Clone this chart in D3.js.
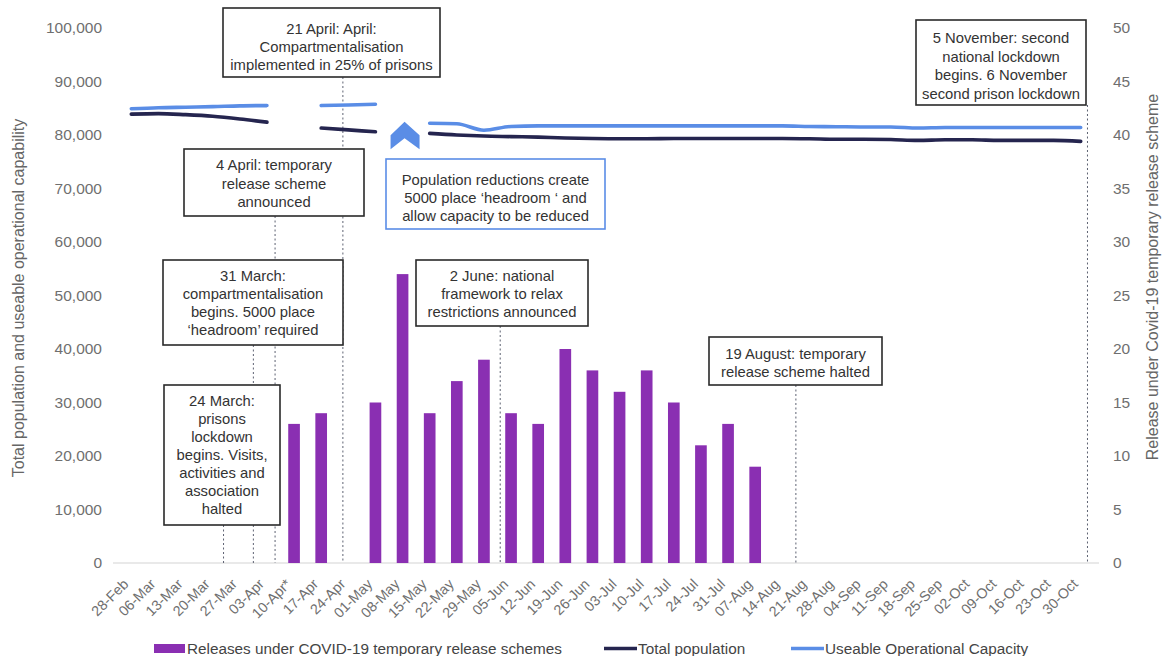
<!DOCTYPE html>
<html>
<head>
<meta charset="utf-8">
<script src="https://cdn.jsdelivr.net/npm/d3@7"></script>
<style>
  body { margin: 0; background: #fff; }
  svg { display: block; font-family: "Liberation Sans", Arial, Helvetica, sans-serif; }
</style>
</head>
<body>
<svg id="chart" width="1162" height="656"></svg>
<script>
// Weekly categories (week commencing)
const weeks = ["28-Feb","06-Mar","13-Mar","20-Mar","27-Mar","03-Apr","10-Apr*","17-Apr","24-Apr",
  "01-May","08-May","15-May","22-May","29-May","05-Jun","12-Jun","19-Jun","26-Jun","03-Jul",
  "10-Jul","17-Jul","24-Jul","31-Jul","07-Aug","14-Aug","21-Aug","28-Aug","04-Sep","11-Sep",
  "18-Sep","25-Sep","02-Oct","09-Oct","16-Oct","23-Oct","30-Oct"];

// Releases under the COVID-19 temporary release schemes (right axis)
const releases = [null,null,null,null,null,null,13,14,null,15,27,14,17,19,14,13,20,18,16,
  18,15,11,13,9,null,null,null,null,null,null,null,null,null,null,null,null];

// Total prison population (left axis); gaps where no figure was published
const totalPopulation = [83900,84000,83800,83500,83000,82400,null,81300,80950,80600,null,
  80300,80000,79800,79700,79600,79450,79350,79300,79300,79350,79350,79350,79350,79350,79300,
  79200,79200,79150,79000,79100,79100,79000,79000,79000,78800];

// Useable operational capacity (left axis)
const operationalCapacity = [84900,85100,85200,85300,85450,85500,null,85500,85600,85750,null,
  82200,82100,80900,81600,81700,81700,81700,81700,81700,81700,81700,81700,81700,81700,81600,
  81550,81500,81500,81300,81400,81400,81400,81400,81400,81400];

const leftTicks = d3.range(0, 100001, 10000);
const rightTicks = d3.range(0, 51, 5);

// Timeline events: position in weeks from 28-Feb and the note text
const events = [
  { week: 3.4,  lines: ["24 March:", "prisons", "lockdown", "begins. Visits,", "activities and", "association", "halted"] },
  { week: 4.5,  lines: ["31 March:", "compartmentalisation", "begins. 5000 place", "\u2018headroom\u2019 required"] },
  { week: 5.3,  lines: ["4 April: temporary", "release scheme", "announced"] },
  { week: 7.8,  lines: ["21 April: April:", "Compartmentalisation", "implemented in 25% of prisons"] },
  { week: 13.6, lines: ["2 June: national", "framework to relax", "restrictions announced"] },
  { week: 24.5, lines: ["19 August: temporary", "release scheme halted"] },
  { week: 35.25, lines: ["5 November: second", "national lockdown", "begins. 6 November", "second prison lockdown"] }
];
const headroomNote = ["Population reductions create", "5000 place \u2018headroom \u2018 and", "allow capacity to be reduced"];

// Note box placement: [left, top, right, bottom, first line centre, line spacing]
const noteBoxes = [
  [164, 385, 280, 525, 400.5, 18],
  [163, 260, 343, 345, 276, 18],
  [184, 149, 364, 216, 165, 18.3],
  [223, 8, 440, 77, 28.5, 18],
  [416, 260, 588, 326, 276, 18],
  [709, 337, 882, 385, 353.3, 18.4],
  [916, 20, 1086, 105, 37.7, 18.5]
];
const headroomBox = [386, 159, 605, 229, 179.3, 18.3];

const colors = {
  bars: "#8a2fb2",
  population: "#25254f",
  capacity: "#5a8de6",
  note: "#333",
  tick: "#6f6f6f",
  axisLine: "#d3d3d3",
  eventLine: "#5d6272"
};

const svg = d3.select("#chart");
const plotTop = 28, plotBottom = 563, plotLeft = 113, plotRight = 1099;

const x = d3.scaleBand().domain(weeks).range([plotLeft, plotRight]).paddingInner(0.57).paddingOuter(0.46);
const bw = x.bandwidth();
const cx = i => x(weeks[i]) + bw / 2;
const weekX = w => cx(0) + w * x.step();

const yL = d3.scaleLinear().domain([0, 100000]).range([plotBottom, plotTop]);
const yR = d3.scaleLinear().domain([0, 50]).range([plotBottom, plotTop]);

// Baseline
svg.append("line")
  .attr("x1", plotLeft).attr("x2", plotRight)
  .attr("y1", plotBottom).attr("y2", plotBottom)
  .attr("stroke", colors.axisLine).attr("stroke-width", 1.2);

// Left axis
const leftAxis = svg.append("g")
  .attr("transform", `translate(${plotLeft - 11},0)`)
  .call(d3.axisLeft(yL).tickValues(leftTicks).tickSize(0).tickPadding(0).tickFormat(d3.format(",")));
leftAxis.select(".domain").remove();
leftAxis.selectAll("text").attr("font-size", 15.5).attr("fill", colors.tick)
  .attr("font-family", "\"Liberation Sans\", Arial, sans-serif");

// Right axis
const rightAxis = svg.append("g")
  .attr("transform", `translate(${plotRight + 14},0)`)
  .call(d3.axisRight(yR).tickValues(rightTicks).tickSize(0).tickPadding(0));
rightAxis.select(".domain").remove();
rightAxis.selectAll("text").attr("font-size", 15.5).attr("fill", colors.tick)
  .attr("font-family", "\"Liberation Sans\", Arial, sans-serif");

// Bottom axis labels, rotated
const bottomAxis = svg.append("g")
  .attr("transform", `translate(0,${plotBottom})`)
  .call(d3.axisBottom(x).tickSize(0).tickPadding(0));
bottomAxis.select(".domain").remove();
bottomAxis.selectAll("text")
  .attr("font-size", 14.3).attr("fill", colors.tick)
  .attr("font-family", "\"Liberation Sans\", Arial, sans-serif")
  .attr("text-anchor", "end")
  .attr("dy", 0)
  .attr("transform", "translate(-2,22) rotate(-45)");

// Axis titles
svg.append("text")
  .attr("transform", `translate(24,298) rotate(-90)`)
  .attr("text-anchor", "middle")
  .attr("font-size", 16).attr("fill", "#666")
  .text("Total population and useable operational capability");
svg.append("text")
  .attr("transform", `translate(1158,277) rotate(-90)`)
  .attr("text-anchor", "middle")
  .attr("font-size", 16).attr("fill", "#666")
  .text("Release under Covid-19 temporary release scheme");

// Event marker lines (drawn first so note boxes sit above them)
svg.append("g").selectAll("line")
  .data(events)
  .join("line")
  .attr("x1", d => weekX(d.week)).attr("x2", d => weekX(d.week))
  .attr("y1", (d, i) => noteBoxes[i][3]).attr("y2", plotBottom)
  .attr("stroke", colors.eventLine).attr("stroke-width", 1)
  .attr("stroke-dasharray", "2,2.5");

// Bars
svg.append("g").selectAll("rect")
  .data(releases.map((v, i) => ({ v, i })).filter(d => d.v != null))
  .join("rect")
  .attr("x", d => x(weeks[d.i]))
  .attr("y", d => yR(d.v))
  .attr("width", bw)
  .attr("height", d => yR(0) - yR(d.v))
  .attr("fill", colors.bars);

// Lines
const lineGen = d3.line()
  .defined(d => d.v != null)
  .x(d => cx(d.i))
  .y(d => yL(d.v))
  .curve(d3.curveMonotoneX);

svg.append("path")
  .datum(operationalCapacity.map((v, i) => ({ v, i })))
  .attr("d", lineGen)
  .attr("fill", "none").attr("stroke", colors.capacity)
  .attr("stroke-width", 3.6).attr("stroke-linecap", "round").attr("stroke-linejoin", "round");

svg.append("path")
  .datum(totalPopulation.map((v, i) => ({ v, i })))
  .attr("d", lineGen)
  .attr("fill", "none").attr("stroke", colors.population)
  .attr("stroke-width", 3.6).attr("stroke-linecap", "round").attr("stroke-linejoin", "round");

// Chevron marking the capacity reduction in the week of 08-May
{
  const ax = cx(10) + 2, ay = yL(82500);
  const pts = [[0, 0], [15, 13.5], [15, 27.5], [0, 16.5], [-14, 27.5], [-14, 13.5]];
  svg.append("path")
    .attr("d", d3.line()(pts.map(p => [ax + p[0], ay + p[1]])) + "Z")
    .attr("fill", colors.capacity);
}

// Note boxes
function drawNote(lines, box, stroke) {
  const [x0, y0, x1, y1, first, step] = box;
  const g = svg.append("g");
  g.append("rect")
    .attr("x", x0).attr("y", y0).attr("width", x1 - x0).attr("height", y1 - y0)
    .attr("fill", "#fff").attr("stroke", stroke).attr("stroke-width", 1.6);
  g.selectAll("text")
    .data(lines)
    .join("text")
    .attr("x", (x0 + x1) / 2)
    .attr("y", (d, i) => first + i * step + 5.3)
    .attr("text-anchor", "middle")
    .attr("font-size", 14.8).attr("fill", colors.note)
    .text(d => d);
}
events.forEach((e, i) => drawNote(e.lines, noteBoxes[i], "#2a2a2a"));
drawNote(headroomNote, headroomBox, colors.capacity);

// Legend
const legend = svg.append("g").attr("font-size", 15.3).attr("fill", "#444");
legend.append("rect").attr("x", 154).attr("y", 644).attr("width", 31).attr("height", 9).attr("fill", colors.bars);
legend.append("text").attr("x", 187).attr("y", 654).text("Releases under COVID-19 temporary release schemes");
legend.append("line").attr("x1", 604).attr("x2", 637).attr("y1", 648.5).attr("y2", 648.5)
  .attr("stroke", colors.population).attr("stroke-width", 3.5);
legend.append("text").attr("x", 638).attr("y", 654).text("Total population");
legend.append("line").attr("x1", 791).attr("x2", 824).attr("y1", 648.5).attr("y2", 648.5)
  .attr("stroke", colors.capacity).attr("stroke-width", 3.5);
legend.append("text").attr("x", 825).attr("y", 654).text("Useable Operational Capacity");
</script>
</body>
</html>
